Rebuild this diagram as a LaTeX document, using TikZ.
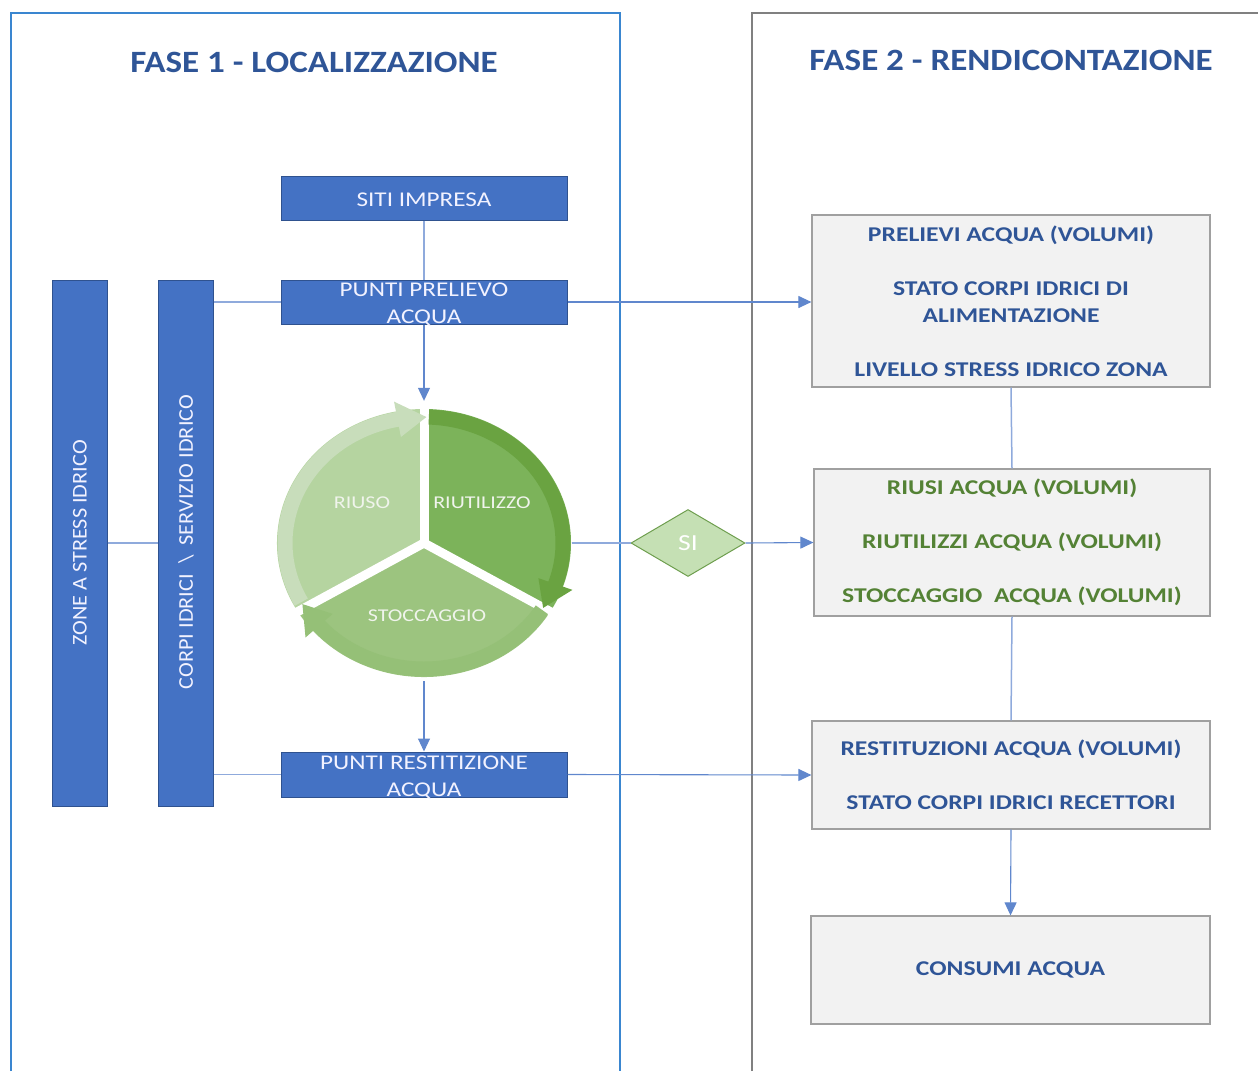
\documentclass[tikz,border=0pt]{standalone}
\usepackage{fontspec}
\setmainfont{Carlito}
\newfontfamily\fhead[FakeStretch=1.13]{Carlito}
\newfontfamily\fbluebx[FakeStretch=1.2]{Carlito}
\newfontfamily\fbar[FakeStretch=1.06]{Carlito}
\newfontfamily\fright[FakeStretch=1.22]{Carlito}
\usetikzlibrary{arrows.meta,shapes.geometric,calc}
\definecolor{boxblue}{HTML}{4472C4}
\definecolor{boxedge}{HTML}{2F528F}
\definecolor{lineblue}{HTML}{8FAADC}
\definecolor{arrblue}{HTML}{4472C4}
\definecolor{headblue}{HTML}{2F5597}
\definecolor{panelblue}{HTML}{3A86D0}
\definecolor{panelgray}{HTML}{808080}
\definecolor{graybox}{HTML}{F2F2F2}
\definecolor{grayedge}{HTML}{A0A0A0}
\definecolor{txtgreen}{HTML}{548235}
\definecolor{gA}{HTML}{7CB35A}
\definecolor{gAband}{HTML}{6AA341}
\definecolor{gB}{HTML}{9CC47F}
\definecolor{gBband}{HTML}{95C077}
\definecolor{gC}{HTML}{B5D4A0}
\definecolor{gCband}{HTML}{C8DDBB}
\definecolor{siFill}{HTML}{C5E0B4}
\definecolor{siEdge}{HTML}{6E9E4E}
\definecolor{cyctext}{HTML}{F0F4EC}
\begin{document}
\begin{tikzpicture}[x=1pt,y=-1pt,
  bluebox/.style={draw=boxedge, line width=1pt, fill=boxblue, inner sep=0pt,
    minimum width=286, minimum height=44},
  bluetext/.style={text=white!95!blue, font=\fbluebx\fontsize{21}{27}\selectfont, align=center, inner sep=0pt},
  bar/.style={draw=boxedge, line width=1pt, fill=boxblue, inner sep=0pt,
    minimum width=55, minimum height=526},
  bartext/.style={rotate=90, text=white!95!blue, font=\fbar\fontsize{21}{25}\selectfont, inner sep=0pt},
  graybx/.style={draw=grayedge, line width=1.2pt, fill=graybox, inner sep=0pt,
    align=center, font=\fright\bfseries\fontsize{21}{27}\selectfont, text=headblue},
  header/.style={text=headblue, font=\fhead\bfseries\fontsize{31}{37}\selectfont, inner sep=0pt},
  conn/.style={draw=lineblue, line width=1.5pt},
  arrowconn/.style={draw=arrblue!85!white, line width=1.1pt, -{Triangle[length=13pt,width=12pt]}},
  cyclabel/.style={text=cyctext, font=\fright\fontsize{18}{22}\selectfont, inner sep=0pt}
]
\useasboundingbox (0,0) rectangle (1258,1071);
% panels
\draw[panelblue, line width=1.2pt] (11,1071) -- (11,13) -- (620,13) -- (620,1071);
\draw[panelgray, line width=1.2pt] (752,1071) -- (752,13) -- (1258,13);
\node[header] (h1) at (314,62) {FASE 1 - LOCALIZZAZIONE};
\node[header] (h2) at (1011,60) {FASE 2 - RENDICONTAZIONE};

% left blue boxes
\node[bluebox] (siti) at (424,198) {};
\node[bluetext] (sitit) at (424,200) {SITI IMPRESA};
\node[bluebox] (prel) at (424,302) {};
\node[bluetext] (prelt) at (424,305) {PUNTI PRELIEVO\\ACQUA};
\node[bluebox, minimum height=45] (rest) at (424,774.5) {};
\node[bluetext] (restt) at (424,777.5) {PUNTI RESTITIZIONE\\ACQUA};
\node[bar] (zone) at (79.5,543) {};
\node[bartext] (zonet) at (80,543) {ZONE A STRESS IDRICO};
\node[bar] (corpi) at (185.5,543) {};
\node[bartext] (corpit) at (186,542) {CORPI IDRICI \ \textbackslash\ \ SERVIZIO IDRICO};

% cycle
\begin{scope}[shift={(424,543)}]
  \fill[gA] (0,0) -- (-90:147 and 134) arc[start angle=-90,end angle=30,x radius=147,y radius=134] -- cycle;
  \fill[gB] (0,0) -- (30:147 and 134) arc[start angle=30,end angle=150,x radius=147,y radius=134] -- cycle;
  \fill[gC] (0,0) -- (150:147 and 134) arc[start angle=150,end angle=270,x radius=147,y radius=134] -- cycle;
  \draw[white, line width=9pt] (0,0) -- (-90:160 and 150);
  \draw[white, line width=9pt] (0,0) -- (30:170 and 160);
  \draw[white, line width=9pt] (0,0) -- (150:170 and 160);
  \fill[white] (0,0) circle[radius=5];
  % bands
  \draw[gAband, line width=15pt] (-88:139 and 126) arc[start angle=-88,end angle=20,x radius=139,y radius=126];
  \fill[gAband] (19:157 and 144) -- (31:139 and 126) -- (19:121 and 108) -- cycle;
  \draw[gBband, line width=15pt] (32:139 and 126) arc[start angle=32,end angle=140,x radius=139,y radius=126];
  \fill[gBband] (139:157 and 144) -- (151:139 and 126) -- (139:121 and 108) -- cycle;
  \draw[gCband, line width=15pt] (152:139 and 126) arc[start angle=152,end angle=260,x radius=139,y radius=126];
  \fill[gCband] (259:157 and 144) -- (271:139 and 126) -- (259:121 and 108) -- cycle;
\end{scope}
\node[ellipse, minimum width=295, minimum height=270, inner sep=0pt] (cyc) at (424,543) {};
\node[cyclabel] (riuso) at (362,503) {RIUSO};
\node[cyclabel] (riut) at (482,503) {RIUTILIZZO};
\node[cyclabel] (stoc) at (427,616) {STOCCAGGIO};

% SI diamond
\node[diamond, aspect=1.7, draw=siEdge, line width=1pt, fill=siFill, minimum width=114, minimum height=67,
  inner sep=0pt, text=white, font=\fbluebx\fontsize{23}{27}\selectfont] (si) at (688,543) {SI};

% right boxes
\node[graybx, minimum width=398, minimum height=172] (b1) at (1011,301)
  {PRELIEVI ACQUA (VOLUMI)\\[27pt]STATO CORPI IDRICI DI\\ALIMENTAZIONE\\[27pt]LIVELLO STRESS IDRICO ZONA};
\node[graybx, minimum width=396, minimum height=147, text=txtgreen] (b2) at (1012,542.5)
  {RIUSI ACQUA (VOLUMI)\\[27pt]RIUTILIZZI ACQUA (VOLUMI)\\[27pt]STOCCAGGIO\ \ ACQUA (VOLUMI)};
\node[graybx, minimum width=398, minimum height=108] (b3) at (1011,775)
  {RESTITUZIONI ACQUA (VOLUMI)\\[27pt]STATO CORPI IDRICI RECETTORI};
\node[graybx, minimum width=399, minimum height=108] (b4) at (1010.5,970) {CONSUMI ACQUA};

% connectors
\draw[conn] (zone.east) -- (corpi.west);
\draw[conn] (corpi.east |- prel.west) -- (prel.west);
\draw[conn] (corpi.east |- rest.west) -- (rest.west);
\draw[conn] (siti.south) -- (prel.north);
\draw[arrowconn, shorten >=7pt] (prel.south) -- (cyc.north);
\draw[arrowconn] (prel.east) -- (prel.east -| b1.west);
\draw[conn] (cyc.east) -- (si.west);
\draw[arrowconn] (si.east) -- (b2.west);
\draw[arrowconn, shorten <=3pt] (cyc.south) -- (rest.north);
\draw[arrowconn] (rest.east) -- (b3.west);
\draw[conn] (b1.south) -- (b2.north);
\draw[conn] (b2.south) -- (b3.north);
\draw[arrowconn] (b3.south) -- (b4.north);
\end{tikzpicture}
\end{document}
